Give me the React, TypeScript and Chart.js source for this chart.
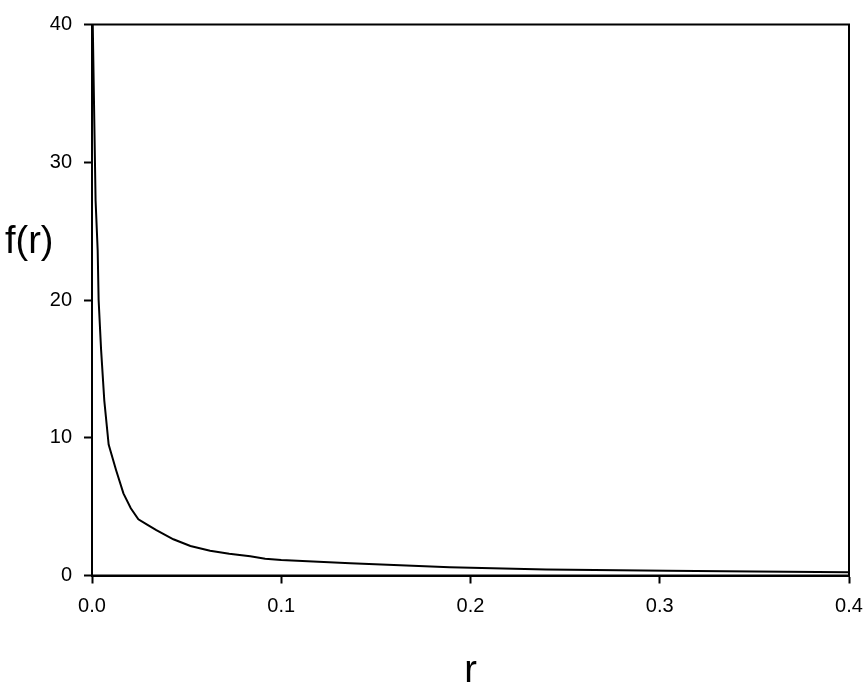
import React, { useEffect, useRef } from "react";
import { Chart, registerables } from "chart.js";

Chart.register(...registerables);

const rValues = [0.0004, 0.0012, 0.0019, 0.003, 0.0035, 0.0048, 0.0065, 0.0088, 0.0127, 0.0166, 0.0205, 0.0245, 0.0289, 0.034, 0.043, 0.052, 0.0624, 0.0725, 0.0836, 0.0915, 0.1, 0.1365, 0.189, 0.24, 0.304, 0.35, 0.4];
const fValues = [40, 33.1, 27.2, 23.6, 20.0, 16.4, 12.7, 9.5, 7.66, 5.96, 4.88, 4.08, 3.71, 3.3, 2.63, 2.14, 1.8, 1.58, 1.4, 1.22, 1.12, 0.89, 0.6, 0.43, 0.35, 0.29, 0.23];
const xTicks = [0, 0.1, 0.2, 0.3, 0.4];
const yTicks = [0, 10, 20, 30, 40];
const xTitle = "r";
const yTitle = "f(r)";

const FONT = 'Arial, "Liberation Sans", sans-serif';

export default function App() {
  const ref = useRef<HTMLCanvasElement>(null);

  useEffect(() => {
    if (!ref.current) return;
    const framePlugin = {
      id: "frameAndTitles",
      afterDraw(chart: any) {
        const { ctx, chartArea: a } = chart;
        ctx.save();
        ctx.strokeStyle = "#000";
        ctx.lineWidth = 2;
        ctx.strokeRect(a.left, a.top, a.right - a.left, a.bottom - a.top);
        ctx.fillStyle = "#000";
        ctx.font = `38px ${FONT}`;
        ctx.textBaseline = "alphabetic";
        ctx.textAlign = "left";
        ctx.fillText(yTitle, 5, 253);
        ctx.textAlign = "center";
        ctx.fillText(xTitle, (a.left + a.right) / 2, 682);
        ctx.restore();
      },
    };

    const chart = new Chart(ref.current, {
      type: "scatter",
      data: {
        datasets: [
          {
            data: rValues.map((r, i) => ({ x: r, y: fValues[i] })),
            showLine: true,
            borderColor: "#000",
            borderWidth: 2,
            pointRadius: 0,
            tension: 0,
            fill: false,
          },
        ],
      },
      options: {
        animation: false,
        responsive: false,
        layout: { padding: { top: 24.5, right: 17, left: 0, bottom: 0 } },
        plugins: { legend: { display: false }, tooltip: { enabled: false } },
        scales: {
          x: {
            type: "linear",
            min: 0,
            max: 0.4,
            afterBuildTicks: (s: any) => {
              s.ticks = xTicks.map((v) => ({ value: v }));
            },
            afterFit: (s: any) => {
              s.height = 111.5;
              s.paddingLeft = 0;
              s.paddingRight = 0;
            },
            grid: { drawOnChartArea: false, drawTicks: true, tickLength: 8, tickWidth: 2, tickColor: "#000" },
            border: { display: true, color: "#000", width: 2 },
            ticks: {
              color: "#000",
              font: { family: FONT, size: 20 },
              padding: 11,
              maxRotation: 0,
              callback: (v: any) => Number(v).toFixed(1),
            },
          },
          y: {
            type: "linear",
            min: 0,
            max: 40,
            afterBuildTicks: (s: any) => {
              s.ticks = yTicks.map((v) => ({ value: v }));
            },
            afterFit: (s: any) => {
              s.width = 92;
              s.paddingTop = 0;
              s.paddingBottom = 0;
            },
            grid: { drawOnChartArea: false, drawTicks: true, tickLength: 8, tickWidth: 2, tickColor: "#000" },
            border: { display: true, color: "#000", width: 2 },
            ticks: {
              color: "#000",
              font: { family: FONT, size: 20 },
              padding: 12,
              callback: (v: any) => String(v),
            },
          },
        },
      },
      plugins: [framePlugin],
    });
    return () => chart.destroy();
  }, []);

  return (
    <div style={{ position: "absolute", left: 0, top: 0, width: 866, height: 687, background: "#fff" }}>
      <canvas ref={ref} width={866} height={687} />
    </div>
  );
}
